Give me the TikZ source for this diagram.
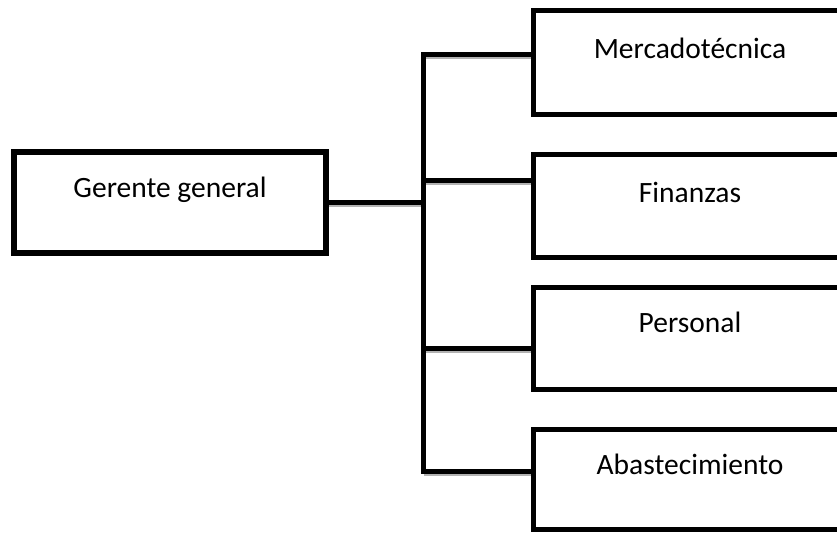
\documentclass[tikz,border=0pt]{standalone}
\usepackage{fontspec}
\setmainfont{Carlito}
\begin{document}
\begin{tikzpicture}[x=1pt,y=-1pt,
  box/.style={draw=black, line width=5.2pt, fill=white, rectangle, inner sep=0pt},
  lbl/.style={anchor=base, inner sep=0pt, font=\fontsize{29.5}{35}\selectfont},
  conn/.style={line width=5.2pt, line cap=rect,
    preaction={draw=black!30, line width=5pt, transform canvas={yshift=-2pt}}}]
  \useasboundingbox (0,0) rectangle (837,533);
  \clip (0,0) rectangle (837,533);

  % top manager
  \node[box, minimum width=312pt, minimum height=101pt] (gg) at (170,202.5) {};
  % departments (their right sides run past the page edge)
  \node[box, minimum width=326.5pt, minimum height=104pt] (m) at (696.75,62.5) {};
  \node[box, minimum width=326.5pt, minimum height=103pt] (f) at (696.75,206) {};
  \node[box, minimum width=326.5pt, minimum height=102pt] (p) at (696.75,338.5) {};
  \node[box, minimum width=326.5pt, minimum height=100pt] (a) at (696.75,479.5) {};

  % labels
  \node[lbl] (tgg) at (170,197) {Gerente general};
  \node[lbl] (tm) at (690,58.3) {Mercadotécnica};
  \node[lbl] (tf) at (690,202) {Finanzas};
  \node[lbl] (tp) at (690,332) {Personal};
  \node[lbl] (ta) at (690,474) {Abastecimiento};

  % junctions on the trunk
  \coordinate (j1) at (423.5,54.5);
  \coordinate (j2) at (423.5,180.5);
  \coordinate (jg) at (423.5,202.5);
  \coordinate (j3) at (423.5,348.5);
  \coordinate (j4) at (423.5,471.5);

  % connectors
  \draw[conn] (gg.east) -- (jg);
  \draw[conn] (j1) -- (j1 -| m.west);
  \draw[conn] (j2) -- (j2 -| f.west);
  \draw[conn] (j3) -- (j3 -| p.west);
  \draw[conn] (j4) -- (j4 -| a.west);
  \draw[line width=5.2pt, line cap=rect] (j1) -- (j4);
\end{tikzpicture}
\end{document}
